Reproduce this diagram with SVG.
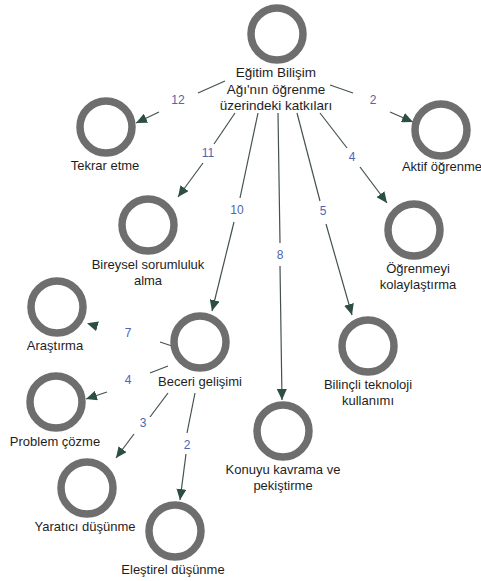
<svg xmlns="http://www.w3.org/2000/svg" width="481" height="581" viewBox="0 0 481 581">
<style>
.c{fill:#fff;stroke:#6e6e6e;stroke-width:7.5}
.t{font-family:"Liberation Sans",Arial,sans-serif;font-size:13px;fill:#1e1e1e;text-anchor:middle}
.m{font-size:13.5px}
.n{font-family:"Liberation Sans",Arial,sans-serif;font-size:12px;fill:#4d66b2;text-anchor:middle}
.e{stroke:#44524d;stroke-width:1.2;fill:none}
</style>
<defs>
<marker id="ah" markerUnits="userSpaceOnUse" markerWidth="12" markerHeight="10" refX="11" refY="5" orient="auto">
<path d="M0,0 L11,5 L0,10 z" fill="#2c4f42"/>
</marker>
</defs>
<rect width="481" height="581" fill="#fff"/>
<g id="connectors">
<line class="e" x1="225" y1="81" x2="198" y2="93"/><line class="e" x1="159" y1="112" x2="136" y2="123" marker-end="url(#ah)"/><text class="n" x="178" y="104">12</text>
<line class="e" x1="235" y1="113" x2="214" y2="144"/><line class="e" x1="203" y1="163" x2="178" y2="197" marker-end="url(#ah)"/><text class="n" x="208" y="157">11</text>
<line class="e" x1="258" y1="113" x2="240" y2="198"/><line class="e" x1="234" y1="222" x2="212" y2="311" marker-end="url(#ah)"/><text class="n" x="237" y="214">10</text>
<line class="e" x1="278" y1="113" x2="280" y2="243"/><line class="e" x1="280" y1="266" x2="282" y2="400" marker-end="url(#ah)"/><text class="n" x="280" y="259">8</text>
<line class="e" x1="297" y1="113" x2="320" y2="201"/><line class="e" x1="326" y1="224" x2="352" y2="315" marker-end="url(#ah)"/><text class="n" x="323" y="215">5</text>
<line class="e" x1="320" y1="113" x2="347" y2="148"/><line class="e" x1="360" y1="167" x2="387" y2="203" marker-end="url(#ah)"/><text class="n" x="352" y="161">4</text>
<line class="e" x1="330" y1="85" x2="353" y2="93"/><line class="e" x1="390" y1="112" x2="413" y2="122" marker-end="url(#ah)"/><text class="n" x="373" y="104">2</text>
<line class="e" x1="172" y1="346" x2="160" y2="342"/><line class="e" x1="88" y1="323.5" x2="87" y2="323.2" stroke-opacity="0" marker-end="url(#ah)"/><text class="n" x="128" y="337">7</text>
<line class="e" x1="168" y1="366" x2="150" y2="373"/><line class="e" x1="107" y1="392" x2="86" y2="399" marker-end="url(#ah)"/><text class="n" x="128" y="384">4</text>
<line class="e" x1="168" y1="393" x2="150" y2="417"/><line class="e" x1="134" y1="434" x2="116" y2="458" marker-end="url(#ah)"/><text class="n" x="143" y="427">3</text>
<line class="e" x1="195" y1="393" x2="187" y2="433"/><line class="e" x1="186" y1="454" x2="180" y2="500" marker-end="url(#ah)"/><text class="n" x="187" y="449">2</text>
</g>
<g id="n0"><circle class="c" cx="277" cy="34" r="26"/><text class="t m" x="276" y="77">Eğitim Bilişim</text><text class="t m" x="276" y="94">Ağı'nın öğrenme</text><text class="t m" x="276" y="110">üzerindeki katkıları</text></g>
<g id="n1"><circle class="c" cx="106" cy="127" r="26"/><text class="t" x="105" y="170">Tekrar etme</text></g>
<g id="n2"><circle class="c" cx="441" cy="130" r="26"/><text class="t" x="442" y="171">Aktif öğrenme</text></g>
<g id="n3"><circle class="c" cx="148" cy="225" r="26"/><text class="t" x="148" y="269">Bireysel sorumluluk</text><text class="t" x="148" y="285">alma</text></g>
<g id="n4"><circle class="c" cx="414" cy="230" r="26"/><text class="t" x="418" y="273">Öğrenmeyi</text><text class="t" x="418" y="289">kolaylaştırma</text></g>
<g id="n5"><circle class="c" cx="57" cy="307" r="26"/><text class="t" x="55" y="350">Araştırma</text></g>
<g id="n6"><circle class="c" cx="200" cy="342" r="26"/><text class="t" x="200" y="386">Beceri gelişimi</text></g>
<g id="n7"><circle class="c" cx="368" cy="346" r="26"/><text class="t" x="368" y="389">Bilinçli teknoloji</text><text class="t" x="368" y="405">kullanımı</text></g>
<g id="n8"><circle class="c" cx="56" cy="402" r="26"/><text class="t" x="55" y="446">Problem çözme</text></g>
<g id="n9"><circle class="c" cx="283" cy="431" r="26"/><text class="t" x="283" y="474">Konuyu kavrama ve</text><text class="t" x="283" y="490">pekiştirme</text></g>
<g id="n10"><circle class="c" cx="87" cy="488" r="26"/><text class="t" x="85" y="531">Yaratıcı düşünme</text></g>
<g id="n11"><circle class="c" cx="175" cy="531" r="26"/><text class="t" x="173" y="574">Eleştirel düşünme</text></g>
</svg>
